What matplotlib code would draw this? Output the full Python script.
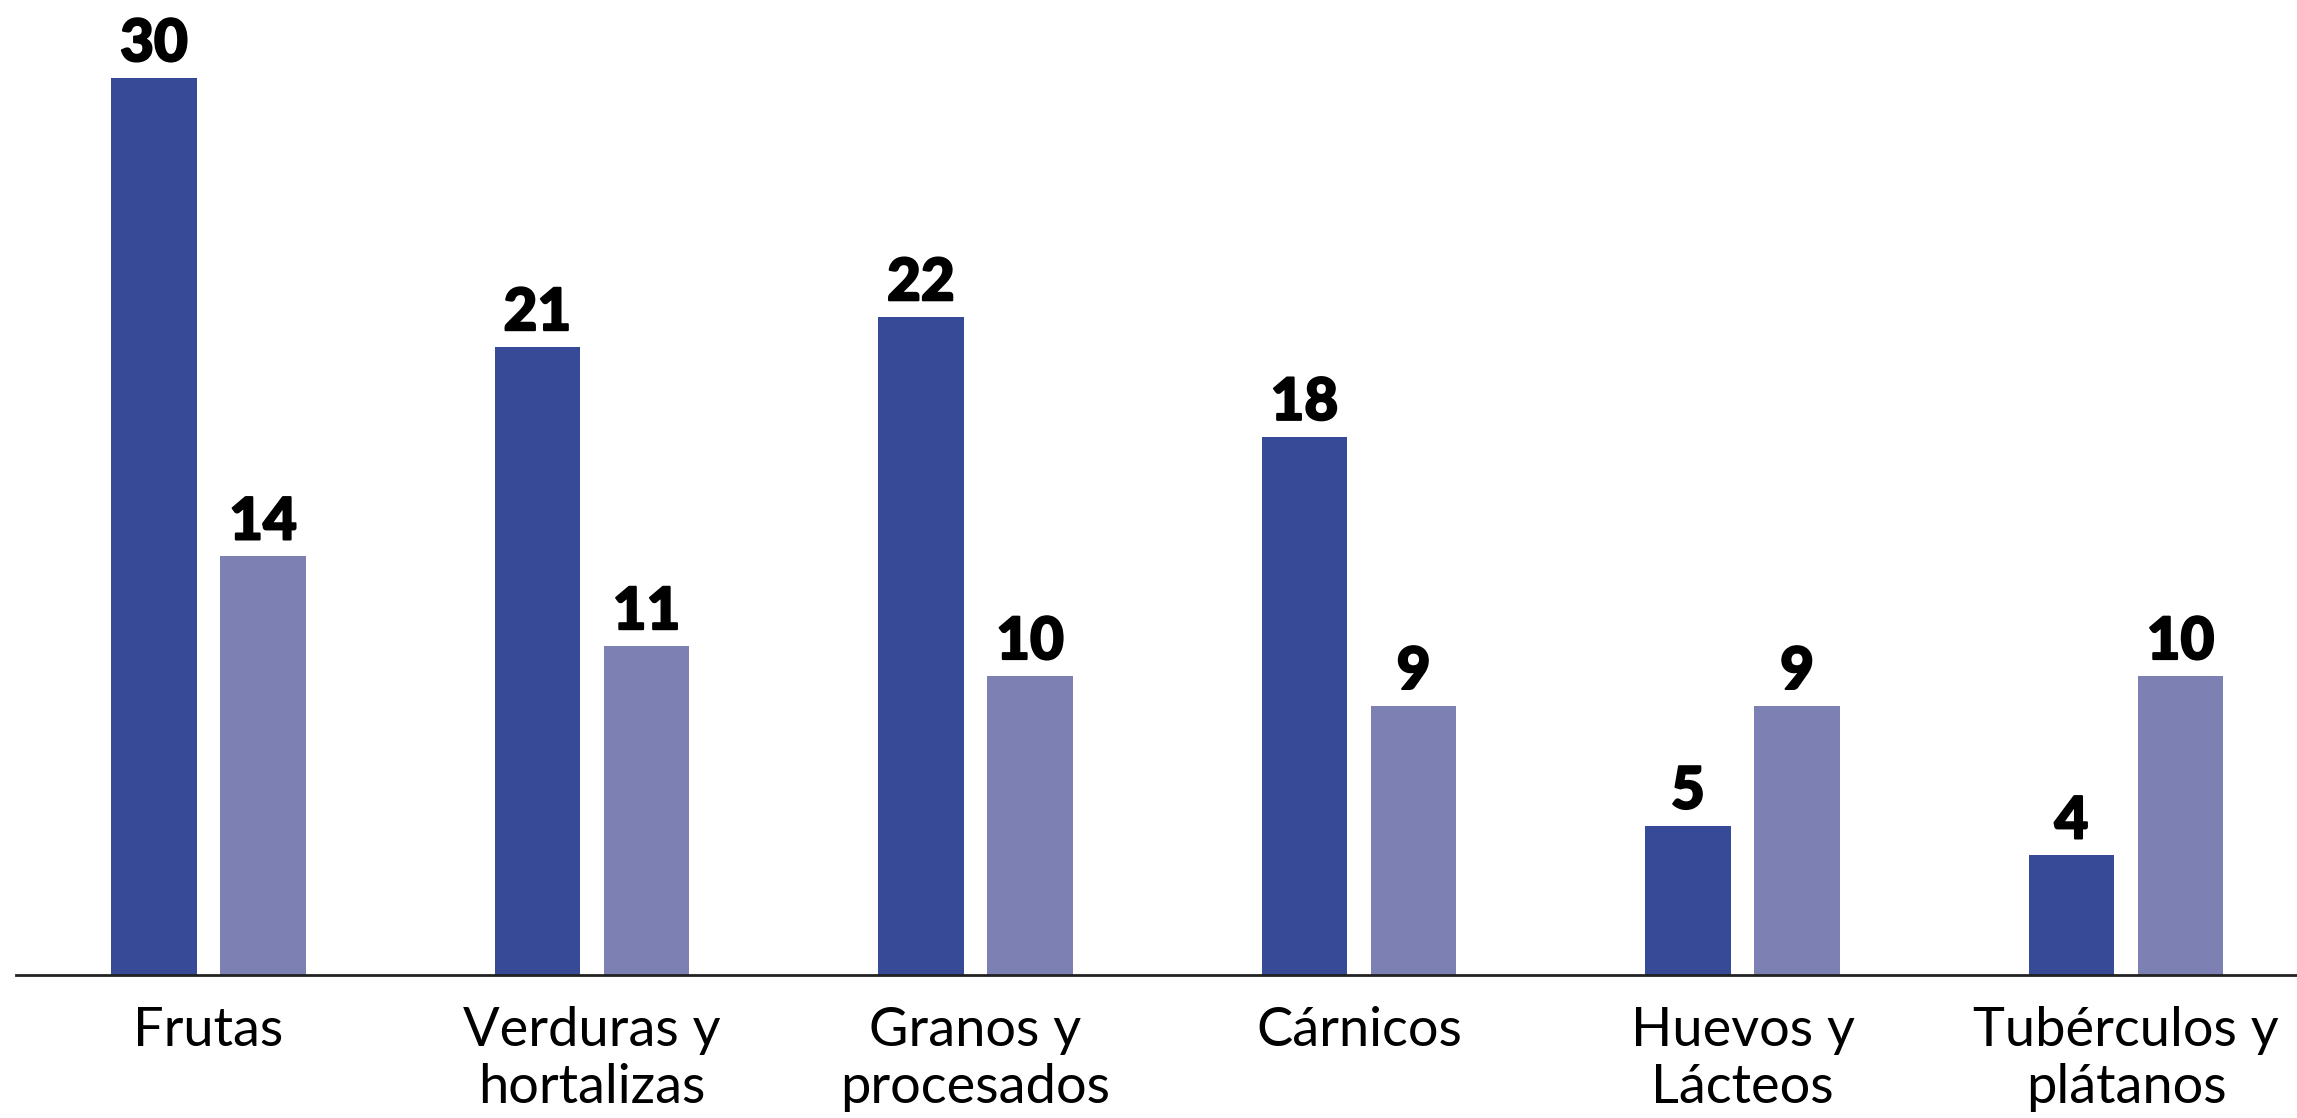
import matplotlib
matplotlib.use("Agg")
import matplotlib.pyplot as plt
import matplotlib.patheffects as pe
import numpy as np

categories = ["Frutas", "Verduras y\nhortalizas", "Granos y\nprocesados", "Cárnicos",
              "Huevos y\nLácteos", "Tubérculos y\nplátanos"]
serie_a = [30, 21, 22, 18, 5, 4]
serie_b = [14, 11, 10, 9, 9, 10]

dark = "#374A97"
light = "#7D80B3"

fig = plt.figure(figsize=(22.97, 11.18), dpi=100)
ax = fig.add_axes([16/2297, 143/1118, 1 - 16/2297, 975/1118])

x = np.arange(len(categories))
w = 0.2235
off = 0.1423
ba = ax.bar(x - off, serie_a, w, color=dark)
bb = ax.bar(x + off, serie_b, w, color=light)

for bars in (ba, bb):
    for r in bars:
        ax.annotate(f"{int(r.get_height())}", (r.get_x() + r.get_width()/2, r.get_height()),
                    xytext=(0, 5), textcoords="offset points", ha="center", va="bottom",
                    fontsize=42, fontweight="black", family=["Lato", "DejaVu Sans"], color="black",
                    path_effects=[pe.withStroke(linewidth=1.5, foreground="black")])

ax.set_xlim(-0.502, 5.446)
ax.set_ylim(0, 975/29.9)
ax.set_xticks(x)
ax.set_xticklabels(categories, fontsize=39, family=["Lato", "DejaVu Sans"], linespacing=1.22,
                   va="top")
ax.tick_params(axis="x", length=0, pad=22)
ax.set_yticks([])
for s in ["top", "right", "left"]:
    ax.spines[s].set_visible(False)
ax.spines["bottom"].set_linewidth(2)
ax.spines["bottom"].set_color("#222222")

fig.savefig("out.png", dpi=100)
